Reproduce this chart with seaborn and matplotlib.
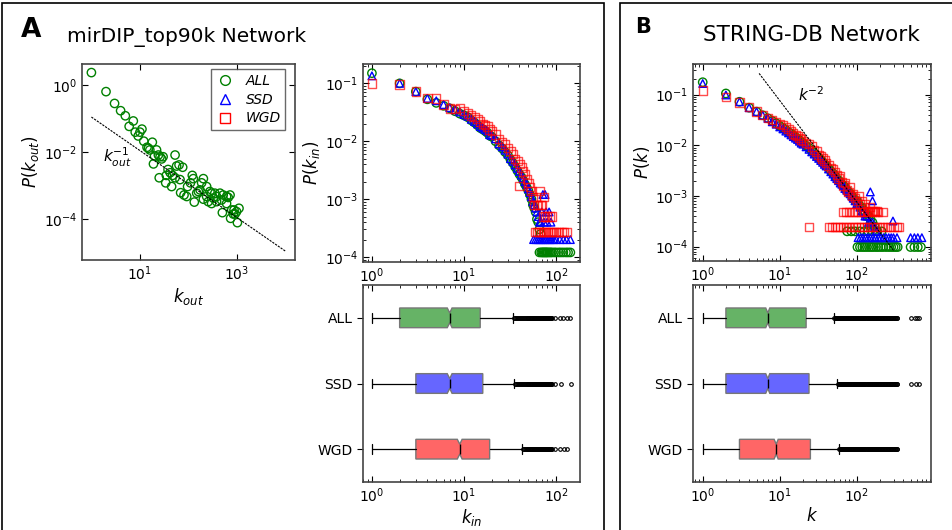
import numpy as np
import matplotlib
matplotlib.use("Agg")
import matplotlib.pyplot as plt
import seaborn as sns
from matplotlib.lines import Line2D
from matplotlib.patches import Rectangle

# ---------------- data ----------------
groups = ["ALL", "SSD", "WGD"]
colors = {"ALL": "green", "SSD": "blue", "WGD": "red"}
markers = {"ALL": "o", "SSD": "^", "WGD": "s"}
box_colors = {"ALL": "#66b366", "SSD": "#6666ff", "WGD": "#ff6666"}

# panel A, out-degree of miRNAs (only ALL)
kout_k = [1, 2, 3, 4, 5, 7.3, 6, 8, 10, 11, 9.2, 12, 18, 15, 16, 14, 22, 20, 24, 26,
          30, 28, 19, 53, 57, 64, 76, 38, 42, 47, 53, 35, 25, 34, 45, 67, 120, 126, 110, 203,
          187, 96, 69, 81, 92, 148, 173, 237, 277, 300, 350, 380, 447, 520, 610, 720,
          660, 237, 256, 300, 380, 480, 610, 132, 203, 500, 780, 870, 980, 1100, 840, 740,
          1020, 910, 160, 325]
kout_p = [2.33, 0.63, 0.28, 0.17, 0.12, 0.084, 0.058, 0.039, 0.039, 0.048, 0.030, 0.021,
          0.0195, 0.0129, 0.0115, 0.0138, 0.0115, 0.0076, 0.0081, 0.0072, 0.0072, 0.0062,
          0.0044, 0.0081, 0.0038, 0.0041, 0.0035, 0.0030, 0.0024, 0.0020, 0.0017, 0.0020,
          0.0017, 0.0012, 0.00093, 0.0015, 0.0020, 0.0016, 0.0012, 0.0016, 0.0012, 0.00093,
          0.00061, 0.00052, 0.00047, 0.00059, 0.00074, 0.00093, 0.00066, 0.00059, 0.00059,
          0.00047, 0.00059, 0.00052, 0.00047, 0.00052, 0.00044, 0.00047, 0.00033, 0.00029,
          0.00033, 0.00037, 0.00029, 0.00032, 0.00039, 0.000155, 0.000186, 0.000186,
          0.000166, 0.000209, 0.000141, 0.000105, 0.000078, 0.000141, 0.00066, 0.00042]

# panel A, in-degree of genes
kin_all_k = [1, 2, 3, 4, 5, 6, 7, 8, 9, 10, 11, 12, 13, 14, 15, 16, 17, 18, 19, 20, 22, 24,
             26, 28, 30, 32, 34, 36, 38, 40, 42, 44, 46, 48, 50, 52, 54, 56, 58, 60, 62, 64,
             66, 68, 66, 69, 71, 73, 75, 77, 79, 81, 84, 87, 90, 95, 100, 107, 113, 120,
             128, 135, 143]
kin_all_p = [0.15, 0.10, 0.072, 0.053, 0.046, 0.041, 0.037, 0.033, 0.030, 0.028, 0.026,
             0.023, 0.021, 0.019, 0.017, 0.016, 0.015, 0.014, 0.0125, 0.012, 0.010, 0.0085,
             0.0075, 0.0065, 0.0057, 0.0048, 0.0042, 0.0036, 0.0031, 0.0027, 0.0024, 0.0021,
             0.0018, 0.0016, 0.0014, 0.0012, 0.0010, 0.0008, 0.0007, 0.0006, 0.00045, 0.0004,
             0.0003, 0.00025, 0.00012, 0.00012, 0.00012, 0.00012, 0.00012, 0.00012, 0.00012,
             0.00012, 0.00012, 0.00012, 0.00012, 0.00012, 0.00012, 0.00012, 0.00012,
             0.00012, 0.00012, 0.00012, 0.00012]
kin_ssd_k = [1, 2, 3, 4, 5, 6, 7, 8, 9, 10, 11, 12, 13, 14, 15, 16, 17, 18, 19, 20, 22, 24,
             26, 28, 30, 32, 34, 36, 38, 40, 42, 44, 46, 48, 50, 52, 54, 56, 58, 60, 62, 64,
             66, 68, 70, 72, 74, 76, 78, 80, 84, 88, 57, 60, 63, 66, 69, 72, 75, 78, 82, 86,
             90, 95, 100, 110, 120, 130, 143]
kin_ssd_p = [0.135, 0.10, 0.072, 0.055, 0.050, 0.043, 0.038, 0.035, 0.032, 0.029, 0.027,
             0.024, 0.022, 0.020, 0.018, 0.017, 0.016, 0.015, 0.013, 0.0125, 0.011, 0.009,
             0.008, 0.007, 0.006, 0.005, 0.0045, 0.0039, 0.0034, 0.0030, 0.0026, 0.0023,
             0.0020, 0.0018, 0.0015, 0.0013, 0.0011, 0.0009, 0.0008, 0.0007, 0.0006, 0.0005,
             0.0004, 0.0004, 0.0006, 0.0012, 0.0004, 0.0012, 0.0006, 0.0004, 0.0006, 0.0004,
             0.0002, 0.0002, 0.0002, 0.0002, 0.0002, 0.0002, 0.0002, 0.0002, 0.0002, 0.0002,
             0.0002, 0.0002, 0.0002, 0.0002, 0.0002, 0.0002, 0.0002]
kin_wgd_k = [1, 2, 3, 4, 5, 6, 7, 8, 9, 10, 11, 12, 13, 14, 15, 16, 17, 18, 19, 20, 22, 24,
             26, 28, 30, 32, 34, 36, 38, 40, 42, 44, 46, 48, 50, 52, 54, 56, 58, 60, 62, 64,
             66, 68, 70, 72, 74, 76, 80, 85, 90, 40, 60, 63, 66, 69, 72, 75, 78, 82, 86, 90,
             95, 100, 108, 115, 122, 130]
kin_wgd_p = [0.10, 0.095, 0.072, 0.056, 0.055, 0.043, 0.037, 0.036, 0.038, 0.033, 0.030,
             0.028, 0.026, 0.024, 0.022, 0.020, 0.019, 0.018, 0.016, 0.015, 0.013, 0.011,
             0.0098, 0.0088, 0.0077, 0.0068, 0.0060, 0.0050, 0.0045, 0.0040, 0.0035, 0.0030,
             0.0027, 0.0022, 0.0019, 0.0016, 0.0014, 0.0011, 0.0008, 0.0011, 0.0008, 0.0008,
             0.0014, 0.0008, 0.0008, 0.0005, 0.0011, 0.0005, 0.0005, 0.0005, 0.0005, 0.0017,
             0.00027, 0.00027, 0.00027, 0.00027, 0.00027, 0.00027, 0.00027, 0.00027,
             0.00027, 0.00027, 0.00027, 0.00027, 0.00027, 0.00027, 0.00027, 0.00027]

# panel B, protein-protein degree
k_main = [1, 2, 3, 4, 5, 6, 7, 8, 9, 10, 11, 12, 13, 14, 15, 16, 17, 18, 19, 20, 22, 24,
          26, 28, 30, 32, 34, 36, 38, 40, 43, 46, 49, 52, 55, 58, 61, 64, 67, 70, 74, 78,
          82, 86, 90, 95, 100, 105, 110, 116, 122, 128, 135, 142, 150, 160, 170, 180]
k_all_p = [0.175, 0.105, 0.072, 0.055, 0.046, 0.039, 0.034, 0.030, 0.027, 0.024, 0.022,
           0.020, 0.018, 0.017, 0.0155, 0.0145, 0.0135, 0.0125, 0.0115, 0.011, 0.0098,
           0.0088, 0.0078, 0.0070, 0.0063, 0.0057, 0.0052, 0.0047, 0.0043, 0.0040, 0.0035,
           0.0031, 0.0028, 0.0025, 0.0022, 0.0020, 0.0019, 0.0017, 0.0016, 0.0015, 0.0013,
           0.0012, 0.0011, 0.0010, 0.0009, 0.0008, 0.0008, 0.0007, 0.0006, 0.0006, 0.0005,
           0.0005, 0.0004, 0.0004, 0.00035, 0.0003, 0.00025, 0.0002]
k_ssd_p = [0.165, 0.098, 0.072, 0.055, 0.046, 0.039, 0.034, 0.029, 0.026, 0.023, 0.021,
           0.019, 0.0175, 0.016, 0.0148, 0.0138, 0.013, 0.012, 0.011, 0.0105, 0.0093,
           0.0083, 0.0074, 0.0067, 0.0060, 0.0055, 0.0050, 0.0046, 0.0042, 0.0039, 0.0034,
           0.0030, 0.0027, 0.0024, 0.0022, 0.0020, 0.0018, 0.0017, 0.0016, 0.0014, 0.0013,
           0.0012, 0.0011, 0.0010, 0.0009, 0.0008, 0.0007, 0.0007, 0.0006, 0.0005, 0.0005,
           0.0004, 0.0004, 0.0003, 0.0003, 0.0003, 0.00025, 0.0002]
k_wgd_p = [0.12, 0.09, 0.070, 0.056, 0.046, 0.040, 0.034, 0.031, 0.028, 0.026, 0.025,
           0.023, 0.021, 0.019, 0.017, 0.016, 0.015, 0.014, 0.013, 0.012, 0.011, 0.0105,
           0.0095, 0.0080, 0.0075, 0.0065, 0.0060, 0.0055, 0.0050, 0.0045, 0.0040, 0.0036,
           0.0033, 0.0030, 0.0026, 0.0022, 0.0024, 0.0019, 0.0016, 0.0018, 0.0013, 0.0012,
           0.0015, 0.0010, 0.0011, 0.0009, 0.0008, 0.0010, 0.0007, 0.0008, 0.0006, 0.0007,
           0.0005, 0.0005, 0.0006, 0.0005, 0.0005, 0.0005]
k_all_tail_k = [102, 110, 118, 126, 135, 145, 155, 165, 178, 190, 205, 220, 240, 260, 280,
                300, 320, 340, 500, 560, 620, 680, 75, 85, 95, 110, 125, 140, 160, 185, 210]
k_all_tail_p = [9.8e-5] * 22 + [2e-4] * 9
k_ssd_tail_k = [104, 112, 120, 130, 140, 150, 162, 175, 190, 205, 222, 240, 260, 280, 300,
                333, 500, 560, 620, 700, 150, 160, 295, 130]
k_ssd_tail_p = [1.5e-4] * 20 + [0.0012, 0.0008, 0.00032, 0.00045]
k_wgd_tail_k = [66, 72, 80, 88, 96, 105, 115, 125, 140, 155, 170, 190, 215,
                24, 44, 48, 52, 56, 60, 66, 72, 80, 88, 96, 105, 115, 125, 138, 150, 165,
                180, 200, 220, 245, 270, 300, 330, 355]
k_wgd_tail_p = [4.8e-4] * 13 + [2.4e-4] * 25

# box statistics: whisker low, q1, median, q3, whisker high
kin_box = {
    "ALL": [1, 2, 7, 15, 34],
    "SSD": [1, 3, 7, 16, 35],
    "WGD": [1, 3, 9, 19, 43],
}
# outlier degrees: a continuous run of values past the whisker, then a few isolated ones
kin_band = [35, 36, 37, 38, 39, 40, 41, 42, 43, 44, 45, 46, 47, 48, 49, 50, 51, 52, 53,
            54, 55, 56, 57, 58, 59, 60, 61, 62, 63, 64, 65, 66, 67, 68, 69, 70, 71, 72, 73,
            74, 75, 76, 77, 78, 79, 80, 81, 82, 83, 84, 85, 86, 87, 88, 89, 90]
kin_far = {"ALL": [97, 110, 119, 130, 141], "SSD": [97, 112, 145], "WGD": [97, 110, 122, 132]}
k_box = {
    "ALL": [1, 2, 7, 22, 50],
    "SSD": [1, 2, 7, 24, 56],
    "WGD": [1, 3, 9, 25, 58],
}
k_band = [51, 52, 53, 54, 55, 56, 57, 58, 59, 60, 61, 62, 63, 64, 65, 66, 67, 68, 69, 70,
          71, 72, 73, 74, 75, 76, 77, 78, 79, 80, 82, 84, 86, 88, 90, 92, 94, 96, 98, 100,
          102, 104, 106, 108, 110, 112, 114, 116, 118, 120, 123, 126, 129, 132, 135, 138,
          141, 144, 147, 150, 153, 156, 159, 162, 165, 168, 172, 176, 180, 184, 188, 192,
          196, 200, 205, 210, 215, 220, 225, 230, 235, 240, 246, 252, 258, 264, 270, 276,
          282, 288, 295, 302, 309, 316, 323, 330, 337]
k_far = {"ALL": [500, 570, 610, 640], "SSD": [500, 580, 640], "WGD": []}

# ---------------- style ----------------
sns.set_style("ticks")
plt.rcParams["font.family"] = ["DejaVu Sans"]
plt.rcParams["mathtext.fontset"] = "dejavusans"
for key in ["text.color", "axes.labelcolor", "xtick.color", "ytick.color"]:
    plt.rcParams[key] = "black"

fig = plt.figure(figsize=(9.52, 5.30), dpi=100)
W, H = 952.0, 530.0


def add_ax(x0, y0, x1, y1):
    return fig.add_axes([x0 / W, 1 - y1 / H, (x1 - x0) / W, (y1 - y0) / H])


def style_ax(ax, minor=True):
    for sp in ax.spines.values():
        sp.set_color("#444444")
        sp.set_linewidth(1.2)
    ax.tick_params(which="both", direction="in", top=True, right=True, labelsize=10)
    ax.tick_params(which="major", length=4)
    ax.tick_params(which="minor", length=2)
    if not minor:
        ax.minorticks_off()


def scatter_open(ax, x, y, grp, s=36, alpha=1.0):
    sns.scatterplot(x=x, y=y, ax=ax, marker=markers[grp], s=s, fc="none",
                    ec=colors[grp], linewidth=1.0, alpha=alpha, legend=False)


# ----- panel A : k_out -----
ax1 = add_ax(82, 64, 295, 260)
ax1.set_xscale("log")
ax1.set_yscale("log")
scatter_open(ax1, kout_k, kout_p, "ALL")
ref_x = np.array([1.0, 1e4])
ax1.plot(ref_x, 0.11 / ref_x, ls=(0, (2, 1)), color="black", lw=0.8)
ax1.set_xlim(0.64, 15700)
ax1.set_ylim(6e-6, 4.2)
ax1.set_xticks([10, 1000])
ax1.set_yticks([1, 1e-2, 1e-4])
style_ax(ax1, minor=False)
ax1.set_xlabel("$k_{out}$", fontsize=12, labelpad=2)
ax1.set_ylabel("$P(k_{out})$", fontsize=12, labelpad=2)
ax1.text(3.5, 0.0067, "$k_{out}^{-1}$", fontsize=11, ha="center", va="center")
handles = [Line2D([], [], marker=markers[g], ls="none", mfc="none", mec=colors[g],
                  ms=7, mew=1.0) for g in groups]
leg = ax1.legend(handles, groups, loc="upper right", bbox_to_anchor=(0.955, 0.975),
                 borderaxespad=0.0, frameon=True, fancybox=False, borderpad=0.35,
                 handlelength=1.2, handletextpad=0.9, labelspacing=0.35,
                 prop={"style": "italic", "size": 10})
leg.get_frame().set_edgecolor("#444444")
leg.get_frame().set_linewidth(1.0)

# ----- panel A : k_in -----
ax2 = add_ax(363, 64, 580, 262)
ax2.set_xscale("log")
ax2.set_yscale("log")
scatter_open(ax2, kin_all_k, kin_all_p, "ALL")
scatter_open(ax2, kin_ssd_k, kin_ssd_p, "SSD", s=30)
scatter_open(ax2, kin_wgd_k, kin_wgd_p, "WGD", alpha=0.7)
ax2.set_xlim(0.8, 182)
ax2.set_ylim(8.2e-5, 0.216)
style_ax(ax2)
ax2.set_ylabel("$P(k_{in})$", fontsize=12, labelpad=2)
ax2.set_xlabel("")

# ----- panel B : k -----
ax3 = add_ax(693, 64, 931, 261)
ax3.set_xscale("log")
ax3.set_yscale("log")
scatter_open(ax3, k_main + k_all_tail_k, k_all_p + k_all_tail_p, "ALL")
scatter_open(ax3, k_main + k_ssd_tail_k, k_ssd_p + k_ssd_tail_p, "SSD", s=30)
scatter_open(ax3, k_main + k_wgd_tail_k, k_wgd_p + k_wgd_tail_p, "WGD", alpha=0.7)
ref_k = np.array([5.4, 300.0])
ax3.plot(ref_k, 7.6 / ref_k ** 2, ls=(0, (2, 1)), color="black", lw=0.8)
ax3.set_xlim(0.748, 920)
ax3.set_ylim(5.2e-5, 0.4)
style_ax(ax3)
ax3.set_ylabel("$P(k)$", fontsize=12, labelpad=2)
ax3.text(26, 0.1, "$k^{-2}$", fontsize=11, ha="center", va="center")


# ----- box plots -----
def box_panel(ax, box, band, far, xlim, xlabel):
    stats = []
    for g in groups:
        lo, q1, med, q3, hi = box[g]
        stats.append(dict(whislo=lo, q1=q1, med=med, q3=q3, whishi=hi,
                          cilo=med * 0.94, cihi=med * 1.06,
                          fliers=[v for v in band if v > hi] + far[g], label=g))
    art = ax.bxp(stats, positions=[0, 1, 2], widths=0.3, orientation="horizontal",
                 shownotches=True, patch_artist=True,
                 boxprops=dict(edgecolor="#777777", linewidth=1.0),
                 medianprops=dict(color="black", linewidth=1.0),
                 whiskerprops=dict(color="black", linewidth=0.9),
                 capprops=dict(color="black", linewidth=0.9),
                 flierprops=dict(marker="o", ms=2.6, mfc="none", mec="black", mew=0.8))
    for patch, g in zip(art["boxes"], groups):
        patch.set_facecolor(box_colors[g])
    ax.set_xscale("log")
    ax.set_xlim(*xlim)
    ax.set_ylim(2.5, -0.5)
    style_ax(ax)
    ax.tick_params(axis="y", which="both", direction="out", right=False, left=True)
    ax.tick_params(axis="y", which="minor", left=False)
    ax.set_yticks([0, 1, 2])
    ax.set_yticklabels(groups)
    ax.set_xlabel(xlabel, fontsize=12, labelpad=1)


ax4 = add_ax(363, 285, 580, 482)
box_panel(ax4, kin_box, kin_band, kin_far, (0.8, 182), "$k_{in}$")
ax5 = add_ax(693, 285, 931, 482)
box_panel(ax5, k_box, k_band, k_far, (0.748, 920), "$k$")

# ----- panel frames and titles -----
fig.patches.append(Rectangle((2 / W, -0.02), 602 / W, 1.02 - 3 / H,
                             transform=fig.transFigure, fill=False, ec="black", lw=1.2))
fig.patches.append(Rectangle((620 / W, -0.02), 340 / W, 1.02 - 3 / H,
                             transform=fig.transFigure, fill=False, ec="black", lw=1.2))
fig.text(31 / W, 1 - 30 / H, "A", fontsize=19, fontweight="heavy", ha="center", va="center")
fig.text(187 / W, 1 - 37 / H, "mirDIP_top90k Network", fontsize=14.5, ha="center",
         va="center")
fig.text(643 / W, 1 - 27 / H, "B", fontsize=15, fontweight="heavy", ha="center", va="center")
fig.text(811 / W, 1 - 35 / H, "STRING-DB Network", fontsize=15.5, ha="center", va="center")

fig.savefig("out.png", dpi=100)
